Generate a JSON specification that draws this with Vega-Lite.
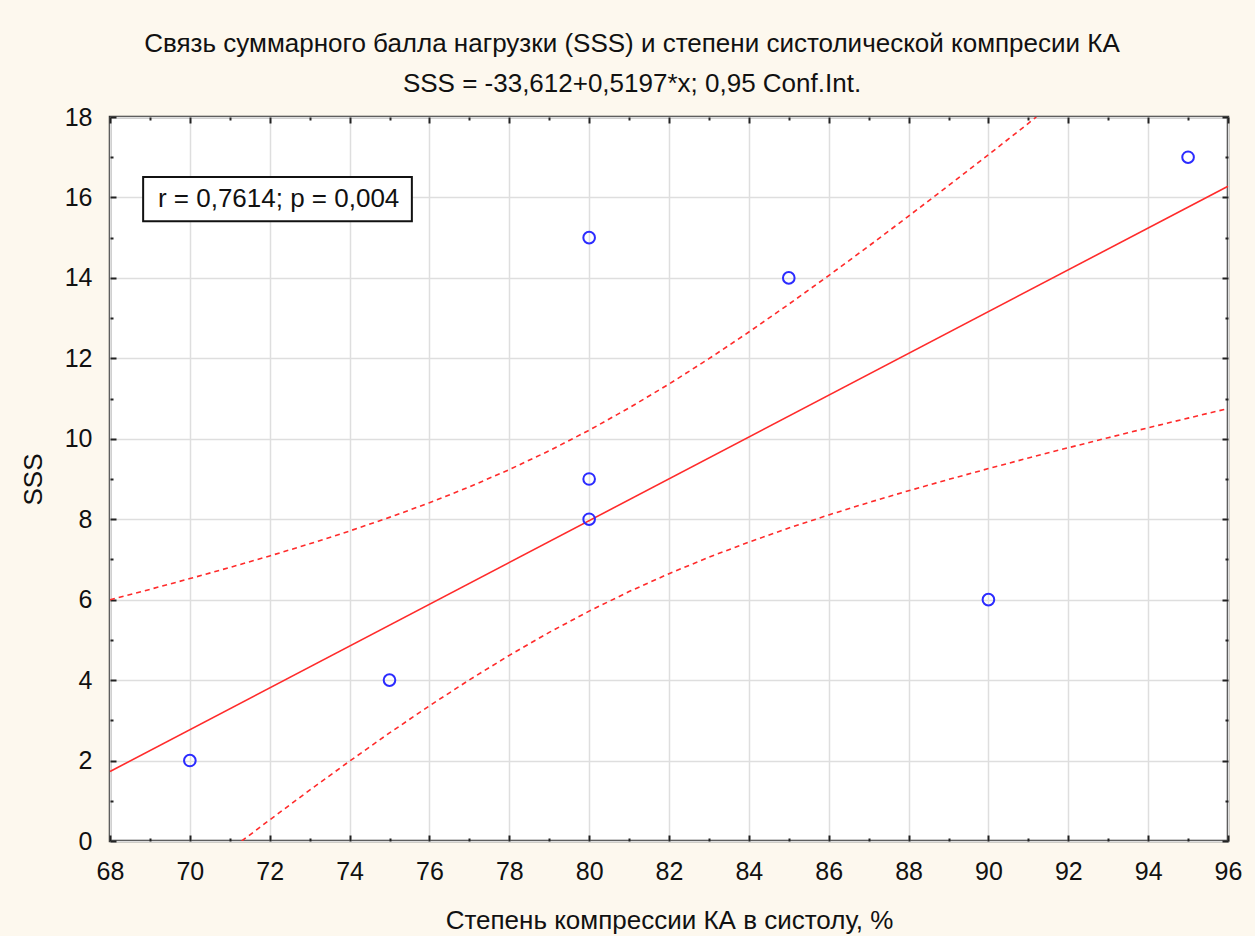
{
  "$schema": "https://vega.github.io/schema/vega-lite/v6.json",
  "autosize": {"type": "none"},
  "padding": {"left": 110, "top": 117, "right": 27, "bottom": 95},
  "width": 1118,
  "height": 724,
  "background": "#fdf8ee",
  "config": {
    "font": "Liberation Sans",
    "view": {"stroke": "#333333", "strokeWidth": 2.5, "fill": "#ffffff"},
    "axis": {"labelFont": "Liberation Sans", "titleFont": "Liberation Sans", "labelColor": "#111111", "titleColor": "#111111", "tickColor": "#222222", "gridColor": "#dedede", "gridWidth": 1.5}
  },
  "title": {
    "text": ["Связь суммарного балла нагрузки (SSS) и степени систолической компресии КА", "SSS = -33,612+0,5197*x; 0,95 Conf.Int."],
    "fontSize": 26,
    "fontWeight": "normal",
    "font": "Liberation Sans",
    "color": "#111111",
    "lineHeight": 40,
    "anchor": "middle",
    "frame": "group",
    "dx": -37,
    "offset": 8
  },
  "datasets": {
    "points": [
      {"x": 70, "y": 2},
      {"x": 75, "y": 4},
      {"x": 80, "y": 15},
      {"x": 80, "y": 9},
      {"x": 80, "y": 8},
      {"x": 85, "y": 14},
      {"x": 90, "y": 6},
      {"x": 95, "y": 17}
    ],
    "fit": [
      {"x": 68, "y": 1.7276},
      {"x": 96, "y": 16.2792}
    ],
    "bands": [
      {"band": "upper", "x": 68, "y": 5.998},
      {"band": "upper", "x": 69, "y": 6.256},
      {"band": "upper", "x": 70, "y": 6.524},
      {"band": "upper", "x": 71, "y": 6.800},
      {"band": "upper", "x": 72, "y": 7.087},
      {"band": "upper", "x": 73, "y": 7.388},
      {"band": "upper", "x": 74, "y": 7.707},
      {"band": "upper", "x": 75, "y": 8.046},
      {"band": "upper", "x": 76, "y": 8.409},
      {"band": "upper", "x": 77, "y": 8.804},
      {"band": "upper", "x": 78, "y": 9.234},
      {"band": "upper", "x": 79, "y": 9.702},
      {"band": "upper", "x": 80, "y": 10.213},
      {"band": "upper", "x": 81, "y": 10.767},
      {"band": "upper", "x": 82, "y": 11.360},
      {"band": "upper", "x": 83, "y": 11.991},
      {"band": "upper", "x": 84, "y": 12.654},
      {"band": "upper", "x": 85, "y": 13.345},
      {"band": "upper", "x": 86, "y": 14.057},
      {"band": "upper", "x": 87, "y": 14.789},
      {"band": "upper", "x": 88, "y": 15.536},
      {"band": "upper", "x": 89, "y": 16.294},
      {"band": "upper", "x": 90, "y": 17.063},
      {"band": "upper", "x": 91, "y": 17.840},
      {"band": "upper", "x": 91.2, "y": 18.0},
      {"band": "lower", "x": 71.3, "y": 0.0},
      {"band": "lower", "x": 72, "y": 0.525},
      {"band": "lower", "x": 73, "y": 1.264},
      {"band": "lower", "x": 74, "y": 1.985},
      {"band": "lower", "x": 75, "y": 2.686},
      {"band": "lower", "x": 76, "y": 3.361},
      {"band": "lower", "x": 77, "y": 4.006},
      {"band": "lower", "x": 78, "y": 4.616},
      {"band": "lower", "x": 79, "y": 5.186},
      {"band": "lower", "x": 80, "y": 5.715},
      {"band": "lower", "x": 81, "y": 6.201},
      {"band": "lower", "x": 82, "y": 6.646},
      {"band": "lower", "x": 83, "y": 7.055},
      {"band": "lower", "x": 84, "y": 7.432},
      {"band": "lower", "x": 85, "y": 7.781},
      {"band": "lower", "x": 86, "y": 8.107},
      {"band": "lower", "x": 87, "y": 8.415},
      {"band": "lower", "x": 88, "y": 8.708},
      {"band": "lower", "x": 89, "y": 8.988},
      {"band": "lower", "x": 90, "y": 9.259},
      {"band": "lower", "x": 91, "y": 9.522},
      {"band": "lower", "x": 92, "y": 9.777},
      {"band": "lower", "x": 93, "y": 10.027},
      {"band": "lower", "x": 94, "y": 10.273},
      {"band": "lower", "x": 95, "y": 10.513},
      {"band": "lower", "x": 96, "y": 10.752}
    ],
    "note": [
      {"label": "r = 0,7614; p = 0,004"}
    ]
  },
  "layer": [
    {
      "data": {"name": "bands"},
      "mark": {"type": "line", "color": "#ff2b2b", "strokeWidth": 1.6, "strokeDash": [5, 4], "clip": true},
      "encoding": {
        "x": {"field": "x", "type": "quantitative", "scale": {"domain": [68, 96], "nice": false, "zero": false},
          "axis": {"orient": "bottom", "values": [68, 70, 72, 74, 76, 78, 80, 82, 84, 86, 88, 90, 92, 94, 96], "grid": true, "ticks": false, "domain": false, "labelFontSize": 25, "labelPadding": 18, "labelFlush": false, "labelOverlap": false,
            "title": "Степень компрессии КА в систолу, %", "titleFontSize": 26, "titleFontWeight": "normal", "titlePadding": 23}},
        "y": {"field": "y", "type": "quantitative", "scale": {"domain": [0, 18], "nice": false, "zero": false},
          "axis": {"orient": "left", "values": [0, 2, 4, 6, 8, 10, 12, 14, 16, 18], "grid": true, "ticks": false, "domain": false, "labelFontSize": 25, "labelPadding": 18, "labelFlush": false, "labelOverlap": false,
            "title": "SSS", "titleFontSize": 26, "titleFontWeight": "normal", "titlePadding": 18}},
        "detail": {"field": "band", "type": "nominal"}
      }
    },
    {
      "data": {"name": "fit"},
      "mark": {"type": "line", "color": "#ff2b2b", "strokeWidth": 1.6},
      "encoding": {
        "x": {"field": "x", "type": "quantitative",
          "axis": {"orient": "bottom", "values": [68, 70, 72, 74, 76, 78, 80, 82, 84, 86, 88, 90, 92, 94, 96], "grid": false, "labels": false, "domain": false, "ticks": true, "tickSize": -6, "tickWidth": 2, "title": null}},
        "y": {"field": "y", "type": "quantitative",
          "axis": {"orient": "left", "values": [0, 2, 4, 6, 8, 10, 12, 14, 16, 18], "grid": false, "labels": false, "domain": false, "ticks": true, "tickSize": -6, "tickWidth": 2, "title": null}}
      }
    },
    {
      "data": {"name": "points"},
      "mark": {"type": "point", "shape": "circle", "filled": false, "color": "#2b2bff", "size": 135, "strokeWidth": 2, "opacity": 1},
      "encoding": {
        "x": {"field": "x", "type": "quantitative",
          "axis": {"orient": "bottom", "values": [69, 71, 73, 75, 77, 79, 81, 83, 85, 87, 89, 91, 93, 95], "grid": false, "labels": false, "domain": false, "ticks": true, "tickSize": -3, "tickWidth": 2, "title": null}},
        "y": {"field": "y", "type": "quantitative",
          "axis": {"orient": "left", "values": [1, 3, 5, 7, 9, 11, 13, 15, 17], "grid": false, "labels": false, "domain": false, "ticks": true, "tickSize": -3, "tickWidth": 2, "title": null}}
      }
    },
    {
      "data": {"name": "note"},
      "mark": {"type": "rect", "fill": "#ffffff", "stroke": "#111111", "strokeWidth": 2},
      "encoding": {
        "x": {"datum": 68.83, "type": "quantitative",
          "axis": {"orient": "top", "values": [68, 70, 72, 74, 76, 78, 80, 82, 84, 86, 88, 90, 92, 94, 96], "grid": false, "labels": false, "domain": false, "ticks": true, "tickSize": -6, "tickWidth": 2, "title": null}},
        "x2": {"datum": 75.56},
        "y": {"datum": 16.51, "type": "quantitative",
          "axis": {"orient": "right", "values": [0, 2, 4, 6, 8, 10, 12, 14, 16, 18], "grid": false, "labels": false, "domain": false, "ticks": true, "tickSize": -6, "tickWidth": 2, "title": null}},
        "y2": {"datum": 15.41}
      }
    },
    {
      "data": {"name": "note"},
      "mark": {"type": "text", "align": "left", "baseline": "middle", "font": "Liberation Sans", "fontSize": 26, "color": "#111111"},
      "encoding": {
        "x": {"datum": 69.2, "type": "quantitative",
          "axis": {"orient": "top", "values": [69, 71, 73, 75, 77, 79, 81, 83, 85, 87, 89, 91, 93, 95], "grid": false, "labels": false, "domain": false, "ticks": true, "tickSize": -3, "tickWidth": 2, "title": null}},
        "y": {"datum": 15.96, "type": "quantitative",
          "axis": {"orient": "right", "values": [1, 3, 5, 7, 9, 11, 13, 15, 17], "grid": false, "labels": false, "domain": false, "ticks": true, "tickSize": -3, "tickWidth": 2, "title": null}},
        "text": {"field": "label", "type": "nominal"}
      }
    }
  ],
  "resolve": {"axis": {"x": "independent", "y": "independent"}}
}
